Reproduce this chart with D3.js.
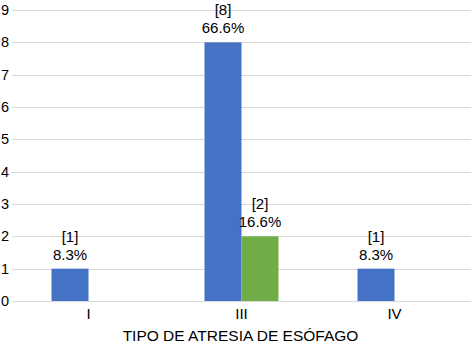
<!DOCTYPE html>
<html>
<head>
<meta charset="utf-8">
<script src="https://cdn.jsdelivr.net/npm/d3@7"></script>
<style>
  body { margin: 0; background: #fff; }
  svg text { font-family: "Liberation Sans", Arial, sans-serif; fill: #000; }
</style>
</head>
<body>
<svg id="chart" width="471" height="344"></svg>
<script>
// Donnees
const categories = ["I", "III", "IV"];
const seriesNames = ["A", "B"];
const countsA = [1, 8, 1];
const countsB = [0, 2, 0];
const pctA = ["8.3%", "66.6%", "8.3%"];
const pctB = ["", "16.6%", ""];
const yTicks = [0, 1, 2, 3, 4, 5, 6, 7, 8, 9];
const colors = ["#4472C4", "#70AD47"];
const axisTitle = "TIPO DE ATRESIA DE ESÓFAGO";

const svg = d3.select("#chart");
const margin = { left: 12, right: 0, top: 10, bottom: 43 };
const width = 471 - margin.left - margin.right;
const height = 344 - margin.top - margin.bottom;

const g = svg.append("g").attr("transform", "translate(" + margin.left + "," + margin.top + ")");

const x0 = d3.scaleBand().domain(categories).range([0, width]).paddingInner(0).paddingOuter(0);
const groupW = 74;
const x1 = d3.scaleBand().domain(seriesNames).range([0, groupW]);
const y = d3.scaleLinear().domain([0, 9]).range([height, 0]);

// Grille horizontale
g.selectAll(".grid")
    .data(yTicks)
    .enter()
    .append("line")
    .attr("x1", 0)
    .attr("x2", width)
    .attr("y1", function(d) { return Math.round(y(d)) + 0.5; })
    .attr("y2", function(d) { return Math.round(y(d)) + 0.5; })
    .attr("stroke", "#d9d9d9")
    .attr("stroke-width", 1);

// Etiquettes de l'axe Y
g.selectAll(".ylab")
    .data(yTicks)
    .enter()
    .append("text")
    .attr("x", -11)
    .attr("y", function(d) { return y(d) + 5; })
    .attr("font-size", 14.5)
    .text(function(d) { return d; });

// Construit les lignes de barres a partir des tableaux
const rows = [];
categories.forEach(function(c, i) {
    rows.push({ cat: c, s: "A", v: countsA[i], pct: pctA[i], color: colors[0] });
    rows.push({ cat: c, s: "B", v: countsB[i], pct: pctB[i], color: colors[1] });
});
const visible = rows.filter(function(d) { return d.v > 0; });

function barX(d) {
    return x0(d.cat) + (x0.bandwidth() - groupW) / 2 + x1(d.s);
}

g.selectAll(".bar")
    .data(visible)
    .enter()
    .append("rect")
    .attr("x", barX)
    .attr("y", function(d) { return y(d.v); })
    .attr("width", x1.bandwidth())
    .attr("height", function(d) { return y(0) - y(d.v); })
    .attr("fill", function(d) { return d.color; });

// Etiquettes de donnees : [n] et pourcentage
const labels = g.selectAll(".lab")
    .data(visible)
    .enter()
    .append("text")
    .attr("text-anchor", "middle")
    .attr("font-size", 15)
    .attr("transform", function(d) {
        return "translate(" + (barX(d) + x1.bandwidth() / 2) + "," + (y(d.v) - 9) + ")";
    });
labels.append("tspan").attr("x", 0).attr("dy", -18).text(function(d) { return "[" + d.v + "]"; });
labels.append("tspan").attr("x", 0).attr("dy", 18).text(function(d) { return d.pct; });

// Etiquettes de l'axe X
g.selectAll(".xlab")
    .data(categories)
    .enter()
    .append("text")
    .attr("text-anchor", "middle")
    .attr("x", function(d) { return x0(d) + x0.bandwidth() / 2; })
    .attr("y", height + 18)
    .attr("font-size", 15)
    .text(function(d) { return d; });

svg.append("text")
    .attr("text-anchor", "middle")
    .attr("x", margin.left + width / 2 - 1)
    .attr("y", 341)
    .attr("font-size", 15.5)
    .text(axisTitle);
</script>
</body>
</html>
